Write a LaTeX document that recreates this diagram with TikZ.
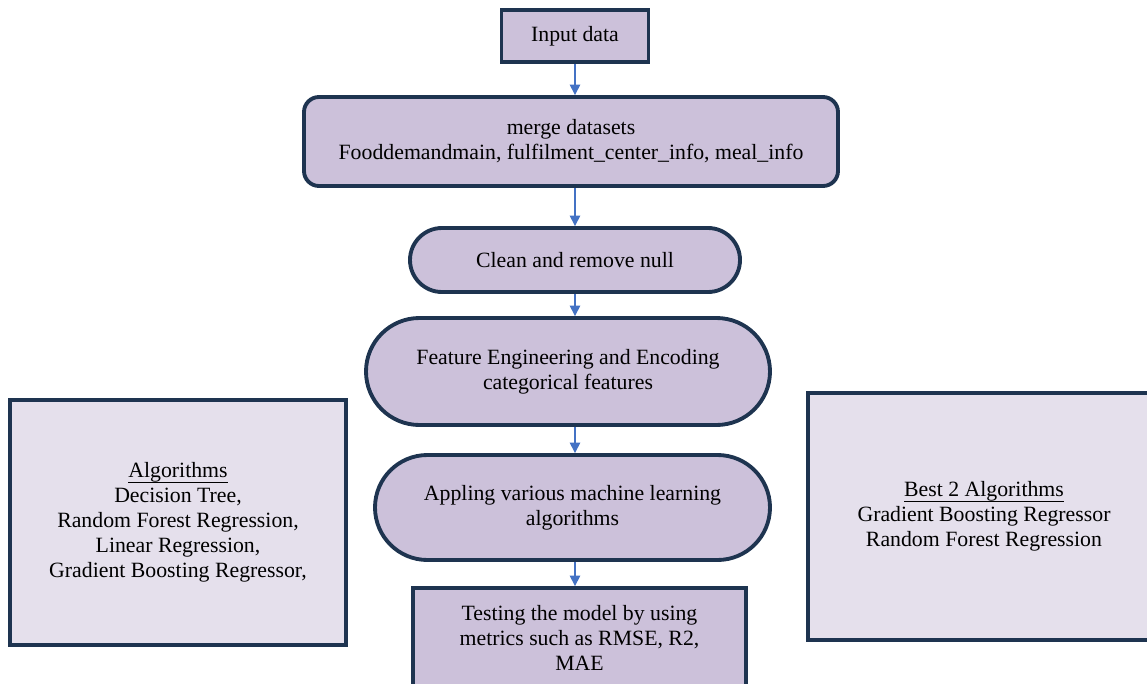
\documentclass[tikz,border=0pt]{standalone}
\usepackage{fontspec}
\setmainfont{Liberation Serif}
\usetikzlibrary{arrows.meta,shapes.misc}
\definecolor{boxfill}{RGB}{204,193,218}
\definecolor{sidefill}{RGB}{229,224,236}
\definecolor{boxline}{RGB}{30,52,80}
\definecolor{arrowblue}{RGB}{68,114,196}
\newcommand\ulword[1]{\leavevmode\setbox0\hbox{#1}\rlap{\rule[-3pt]{\wd0}{0.5pt}}\box0}

\begin{document}
\begin{tikzpicture}[
  font=\fontsize{12.4}{14.2}\selectfont,
  flowbox/.style={draw=boxline,fill=boxfill,line width=2.2pt,align=center,inner sep=0pt},
  pill/.style={flowbox,rounded rectangle,rounded rectangle arc length=180},
  sidebox/.style={draw=boxline,fill=sidefill,line width=2.2pt,inner sep=0pt,align=center},
  flow/.style={arrowblue,line width=0.8pt,-{Triangle[width=6pt,length=6pt]}}
]
\useasboundingbox (0,0) rectangle (22.94,-13.68);
\clip (0,0) rectangle (22.94,-13.68);
\node[flowbox,minimum width=2.94cm,minimum height=1.04cm] (input) at (11.5,-0.72) {Input data};
\node[flowbox,rounded corners=0.3cm,minimum width=10.68cm,minimum height=1.78cm] (merge) at (11.42,-2.83)
  {merge datasets\\Fooddemandmain, fulfilment\_center\_info, meal\_info};
\node[pill,minimum width=6.6cm,minimum height=1.28cm] (clean) at (11.5,-5.2) {Clean and remove null};
\node[pill,minimum width=8.08cm,minimum height=2.14cm] (feature) at (11.36,-7.43)
  {Feature Engineering and Encoding\\categorical features};
\node[pill,minimum width=7.9cm,minimum height=2.1cm] (apply) at (11.45,-10.15)
  {Appling various machine learning\\algorithms};
\node[flowbox,minimum width=6.66cm,minimum height=2.0cm] (test) at (11.59,-12.76)
  {Testing the model by using\\metrics such as RMSE, R2,\\MAE};
\node[sidebox,minimum width=6.72cm,minimum height=4.9cm] (algs) at (3.56,-10.45)
  {\ulword{Algorithms}\\Decision Tree,\\Random Forest Regression,\\Linear Regression,\\Gradient Boosting Regressor,};
\node[sidebox,minimum width=7.04cm,minimum height=4.94cm] (best) at (19.68,-10.33)
  {\ulword{Best 2 Algorithms}\\Gradient Boosting Regressor\\Random Forest Regression};
\draw[flow] (input.south) -- (input.south |- merge.north);
\draw[flow] (merge.south -| input.south) -- (input.south |- clean.north);
\draw[flow] (clean.south -| input.south) -- (input.south |- feature.north);
\draw[flow] (feature.south -| input.south) -- (input.south |- apply.north);
\draw[flow] (apply.south -| input.south) -- (input.south |- test.north);
\end{tikzpicture}
\end{document}
